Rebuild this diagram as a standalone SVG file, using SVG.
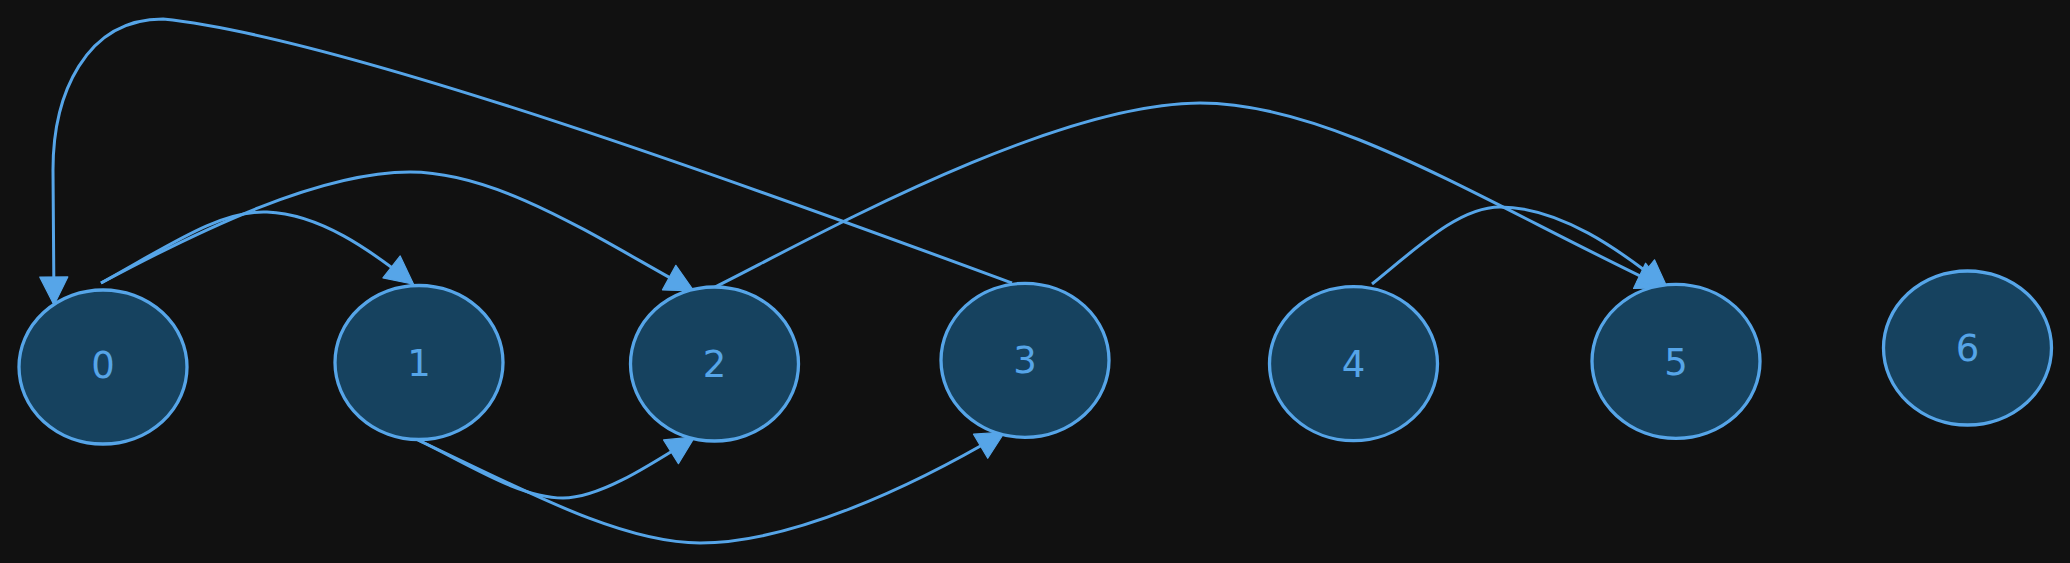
<svg xmlns="http://www.w3.org/2000/svg" width="2070" height="563" viewBox="0 0 2070 563">
<defs>
<style>
.node ellipse{fill:#16425f;stroke:#56a5e8;stroke-width:3.3}
.node text{fill:#56a5e8;font-family:"DejaVu Sans","Noto Sans",sans-serif;font-size:37px;text-anchor:middle}
.edge{fill:none;stroke:#56a5e8;stroke-width:3;marker-end:url(#arrow)}
</style>
<marker id="arrow" viewBox="0 0 28 28" refX="26" refY="14" markerWidth="28" markerHeight="28" markerUnits="userSpaceOnUse" orient="auto" overflow="visible">
<path d="M0,0 L28,14 L0,28 Z" fill="#56a5e8" stroke="#56a5e8" stroke-width="1.2" stroke-linejoin="round"/>
</marker>
</defs>
<rect x="0" y="0" width="2070" height="563" fill="#111111"/>
<g id="connectors">
<path class="edge" d="M1012,283 C800,205 350,38 163,19 C85,19 53,95 53,170 L54,303"/>
<path class="edge" d="M101,283 C170,245 220,210 267,212 C320,214 370,250 412,283"/>
<path class="edge" d="M101,283 C200,230 320,172 410,172 C500,172 600,240 692,290"/>
<path class="edge" d="M418,440 C470,465 520,498 563,498 C600,498 650,465 693,438"/>
<path class="edge" d="M418,440 C520,488 620,543 700,543 C790,543 910,488 1003,433"/>
<path class="edge" d="M715,287 C800,245 1050,103 1200,103 C1330,103 1480,200 1663,287"/>
<path class="edge" d="M1372,284 C1420,245 1460,207 1500,207 C1560,207 1620,250 1666,287"/>
</g>
<g id="node-0" class="node"><ellipse cx="103" cy="367" rx="84" ry="77"/><text x="103" y="377.5">0</text></g>
<g id="node-1" class="node"><ellipse cx="419" cy="362.5" rx="84" ry="77"/><text x="419" y="375.5">1</text></g>
<g id="node-2" class="node"><ellipse cx="714.5" cy="364" rx="84" ry="77"/><text x="714.5" y="376.5">2</text></g>
<g id="node-3" class="node"><ellipse cx="1025" cy="360.3" rx="84" ry="77"/><text x="1025" y="373.3">3</text></g>
<g id="node-4" class="node"><ellipse cx="1353.5" cy="363.7" rx="84" ry="77"/><text x="1353.5" y="376.7">4</text></g>
<g id="node-5" class="node"><ellipse cx="1676" cy="361.3" rx="84" ry="77"/><text x="1676" y="375">5</text></g>
<g id="node-6" class="node"><ellipse cx="1967.5" cy="348" rx="84" ry="77"/><text x="1967.5" y="361">6</text></g>
</svg>
